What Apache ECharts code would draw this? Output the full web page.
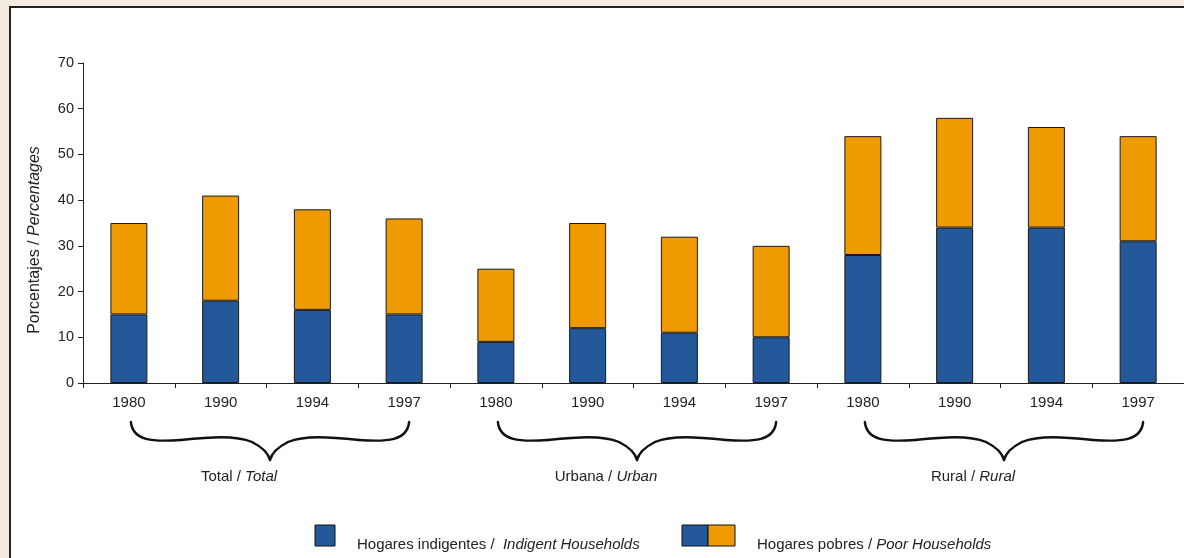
<!DOCTYPE html>
<html>
<head>
<meta charset="utf-8">
<script src="https://cdn.jsdelivr.net/npm/echarts@6/dist/echarts.min.js"></script>
<style>
  html, body { margin: 0; padding: 0; background: #f5ebe1; }
  #chart { width: 1184px; height: 558px; }
</style>
</head>
<body>
<div id="chart"></div>
<script>
// años por grupo
const years = ["1980", "1990", "1994", "1997", "1980", "1990", "1994", "1997", "1980", "1990", "1994", "1997"];
// hogares indigentes (%)
const indigent = [15, 18, 16, 15, 9, 12, 11, 10, 28, 34, 34, 31];
// total hogares pobres (%), incluye indigentes
const poorTotal = [35, 41, 38, 36, 25, 35, 32, 30, 54, 58, 56, 54];
const groupEs = ["Total", "Urbana", "Rural"];
const groupEn = ["Total", "Urban", "Rural"];
const yTicks = [0, 70, 10];

const poorOnly = poorTotal.map((v, i) => v - indigent[i]);

const txt = "#222";
const font = "Liberation Sans";

let myChart = echarts.init(document.getElementById("chart"));

myChart.setOption({
  backgroundColor: "#f5ebe1",
  animation: false,
  textStyle: { fontFamily: font, color: txt },
  grid: { left: 83, top: 63, width: 1110, height: 320 },
  xAxis: {
    type: "category",
    data: years,
    axisLine: { lineStyle: { color: txt, width: 1 } },
    axisTick: { show: true, length: 5, lineStyle: { color: txt } },
    axisLabel: { color: txt, fontSize: 15, margin: 12, fontFamily: font }
  },
  yAxis: {
    type: "value",
    min: yTicks[0],
    max: yTicks[1],
    interval: yTicks[2],
    splitLine: { show: false },
    axisLine: { show: true, lineStyle: { color: txt, width: 1 } },
    axisTick: { show: true, length: 5, lineStyle: { color: txt } },
    axisLabel: { color: txt, fontSize: 14.5, margin: 9, fontFamily: font }
  },
  series: [
    {
      name: "Hogares indigentes",
      type: "bar",
      stack: "pobreza",
      barWidth: 37,
      data: indigent,
      itemStyle: { color: "#23589a", borderColor: "#1a1a1a", borderWidth: 1 }
    },
    {
      name: "Hogares pobres",
      type: "bar",
      stack: "pobreza",
      barWidth: 37,
      data: poorOnly,
      itemStyle: { color: "#ee9a00", borderColor: "#1a1a1a", borderWidth: 1 }
    }
  ]
});

// llave como tramos bezier (graphic no tiene "path")
function braceCurves(x0, x1, y0) {
  const cx = (x0 + x1) / 2;
  const y1 = y0 + 18, y2 = y0 + 38;
  const segs = [
    [x0, y0, x0 + 2, y1 + 1, x0 + 22, y1 + 2, x0 + 50, y1],
    [x0 + 50, y1, cx - 60, y1 - 3, cx - 35, y1 - 5, cx - 18, y1 + 2],
    [cx - 18, y1 + 2, cx - 8, y1 + 7, cx - 2, y2 - 8, cx, y2],
    [cx, y2, cx + 2, y2 - 8, cx + 8, y1 + 7, cx + 18, y1 + 2],
    [cx + 18, y1 + 2, cx + 35, y1 - 5, cx + 60, y1 - 3, x1 - 50, y1],
    [x1 - 50, y1, x1 - 22, y1 + 2, x1 - 2, y1 + 1, x1, y0]
  ];
  return segs.map(s => ({
    type: "bezierCurve", silent: true,
    shape: { x1: s[0], y1: s[1], cpx1: s[2], cpy1: s[3], cpx2: s[4], cpy2: s[5], x2: s[6], y2: s[7] },
    style: { fill: null, stroke: "#111", lineWidth: 2.4, lineCap: "round" }
  }));
}

const rich = {
  n: { fontSize: 15, fontFamily: font, fill: txt },
  i: { fontSize: 15, fontFamily: font, fontStyle: "italic", fill: txt }
};
const richTitle = {
  n: { fontSize: 16, fontFamily: font, fill: txt },
  i: { fontSize: 16, fontFamily: font, fontStyle: "italic", fill: txt }
};

let graphics = [
  {
    type: "rect", z: -10, silent: true,
    shape: { x: 10, y: 7, width: 1200, height: 600 },
    style: { fill: "#fff", stroke: "#222", lineWidth: 2 }
  },
  {
    type: "text", x: 35, y: 240, rotation: Math.PI / 2,
    style: {
      text: "{n|Porcentajes / }{i|Percentages}",
      align: "center", verticalAlign: "middle",
      rich: richTitle
    }
  }
];

for (let g = 0; g < groupEs.length; g++) {
  const a = myChart.convertToPixel({ xAxisIndex: 0 }, g * 4);
  const b = myChart.convertToPixel({ xAxisIndex: 0 }, g * 4 + 3);
  const x0 = a + 2, x1 = b + 5;
  graphics = graphics.concat(braceCurves(x0, x1, 422));
  graphics.push({
    type: "text", x: (x0 + x1) / 2 - 31, y: 477,
    style: {
      text: "{n|" + groupEs[g] + " / }{i|" + groupEn[g] + "}",
      align: "center", verticalAlign: "middle",
      rich: rich
    }
  });
}

// leyenda
graphics.push(
  { type: "rect", shape: { x: 315, y: 525, width: 20, height: 21 }, style: { fill: "#23589a", stroke: "#111", lineWidth: 1 } },
  {
    type: "text", x: 357, y: 545,
    style: { text: "{n|Hogares indigentes /  }{i|Indigent Households}", verticalAlign: "middle", rich: rich }
  },
  { type: "rect", shape: { x: 682, y: 525, width: 26, height: 21 }, style: { fill: "#23589a", stroke: "#111", lineWidth: 1 } },
  { type: "rect", shape: { x: 708, y: 525, width: 27, height: 21 }, style: { fill: "#ee9a00", stroke: "#111", lineWidth: 1 } },
  {
    type: "text", x: 757, y: 545,
    style: { text: "{n|Hogares pobres / }{i|Poor Households}", verticalAlign: "middle", rich: rich }
  }
);

myChart.setOption({ graphic: graphics });
</script>
</body>
</html>
